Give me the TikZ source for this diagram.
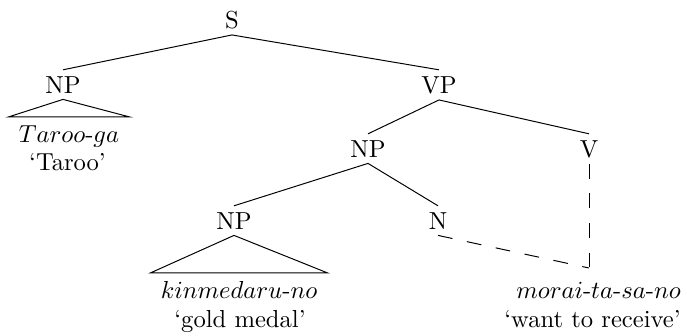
\documentclass[tikz,border=0pt]{standalone}
\usetikzlibrary{calc}

\tikzset{
  cat/.style={inner sep=2.4pt,anchor=base},
  word/.style={inner xsep=4pt,inner ysep=3pt,text height=7pt,anchor=base},
  gloss/.style={inner sep=1pt,anchor=base},
  trace/.style={dash pattern=on 6pt off 6pt}
}

\begin{document}
\begin{tikzpicture}[x=0.4065pt,y=-0.4065pt]
\useasboundingbox (0,0) rectangle (687,335);

% categories
\node[cat] (S)   at (232,28)  {S};
\node[cat] (NPa) at (63,93)   {NP};
\node[cat] (VP)  at (439,93)  {VP};
\node[cat] (NPb) at (368,157) {NP};
\node[cat] (V)   at (589,157) {V};
\node[cat] (NPc) at (234,229) {NP};
\node[cat] (N)   at (438,229) {N};

% words and glosses
\node[word]  (Wa) at (69,142)  {$Taroo$-$ga$};
\node[gloss] (Ga) at (67.5,170) {`Taroo'};
\node[word]  (Wc) at (239,298) {$kinmedaru$-$no$};
\node[gloss] (Gc) at (240,327) {`gold medal'};
\node[word]  (Wv) at (598.5,298) {$morai$-$ta$-$sa$-$no$};
\node[gloss] (Gv) at (592.5,327) {`want to receive'};
\coordinate (join) at (589,268);

% branches
\draw (S.south) -- (NPa.north);
\draw (S.south) -- (VP.north);
\draw (VP.south) -- (NPb.north);
\draw (VP.south) -- (V.north);
\draw (NPb.south) -- (NPc.north);
\draw (NPb.south) -- (N.north);

% triangles
\draw (NPa.south) -- (Wa.north west) -- (Wa.north east) -- cycle;
\draw (NPc.south) -- (Wc.north west) -- (Wc.north east) -- cycle;

% dashed lines to the verb
\draw[trace] (N.south) -- (join);
\draw[trace] (V.south) -- (join);

\end{tikzpicture}
\end{document}
